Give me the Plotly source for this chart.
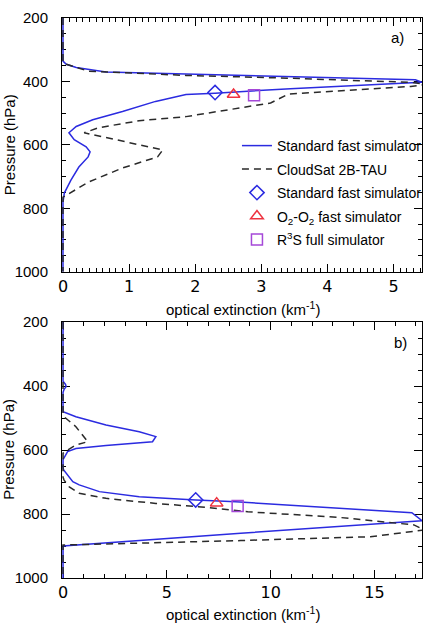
import plotly.graph_objects as go

# ---------------- data (pressure in hPa, optical extinction in km^-1) ----------------
# Panel a
a_blue_p = [200, 336, 346, 356, 370, 376, 386, 395, 403, 423, 437, 441, 463, 495, 521, 542, 562, 584, 606, 622, 638, 670, 711, 752, 781, 1000]
a_blue_x = [0, 0, 0.05, 0.2, 0.65, 1.86, 3.44, 5.33, 5.43, 3.44, 2.3, 1.86, 1.40, 0.9, 0.45, 0.2, 0.09, 0.17, 0.35, 0.41, 0.38, 0.24, 0.12, 0.02, 0, 0]

a_dash_p = [200, 340, 346, 368, 381, 390, 403, 409, 416, 440, 468, 505, 511, 524, 546, 562, 616, 638, 673, 717, 759, 765, 1000]
a_dash_x = [0, 0, 0.05, 0.39, 1.86, 3.44, 5.26, 5.5, 5.26, 3.41, 3.14, 2.08, 1.86, 1.15, 0.54, 0.32, 1.51, 1.43, 0.9, 0.39, 0.05, 0, 0]

a_pts_x = [2.30, 2.58, 2.89]
a_pts_p = [435, 441, 444]

# Panel b
b_blue_p = [200, 385, 395, 402, 410, 420, 480, 496, 522, 543, 558, 574, 586, 595, 605, 621, 630, 655, 662, 699, 709, 730, 746, 756, 762, 796, 821, 860, 900, 1000]
b_blue_x = [0, 0, 0.12, 0.15, 0.05, 0, 0, 0.62, 2.07, 3.67, 4.47, 4.31, 2.07, 0.62, 0.22, 0.06, 0, 0, 0.03, 0.47, 0.78, 1.75, 3.67, 6.39, 8.32, 16.8, 17.29, 8.56, 0, 0]

b_dash_p = [200, 488, 496, 527, 574, 584, 600, 610, 685, 694, 715, 735, 751, 767, 779, 793, 811, 834, 850, 871, 883, 897, 1000]
b_dash_x = [0, 0, 0.05, 0.62, 1.19, 0.62, 0.22, 0, 0, 0.05, 0.3, 0.78, 2.07, 4.47, 6.88, 8.9, 13.37, 16.9, 17.4, 14.8, 8.56, 0, 0]

b_pts_x = [6.39, 7.40, 8.41]
b_pts_p = [756, 766, 775]

pt_names = ["Standard fast simulator", "O<sub>2</sub>-O<sub>2</sub> fast simulator", "R<sup>3</sup>S full simulator"]
pt_symbols = ["diamond-open", "triangle-up-open", "square-open"]

BLUE = "#2b2be0"
RED = "#ee3340"
PURPLE = "#a548d8"
pt_colors = [BLUE, RED, PURPLE]
DASHC = "#2a2a2a"

FONT = "Liberation Sans, Arial, sans-serif"
TICKFONT_X = "DejaVu Sans, sans-serif"

fig = go.Figure()

for panel, (xa, ya, bp, bx, dp, dx, px, pp) in enumerate([
    ("x", "y", a_blue_p, a_blue_x, a_dash_p, a_dash_x, a_pts_x, a_pts_p),
    ("x2", "y2", b_blue_p, b_blue_x, b_dash_p, b_dash_x, b_pts_x, b_pts_p),
]):
    show = panel == 0
    fig.add_trace(go.Scatter(x=bx, y=bp, mode="lines", xaxis=xa, yaxis=ya,
                             line=dict(color=BLUE, width=1.5),
                             name="Standard fast simulator", showlegend=show, legendgroup="g1"))
    fig.add_trace(go.Scatter(x=dx, y=dp, mode="lines", xaxis=xa, yaxis=ya,
                             line=dict(color=DASHC, width=1.5, dash="7px,5px"),
                             name="CloudSat 2B-TAU", showlegend=show, legendgroup="g2"))
    for i in range(3):
        fig.add_trace(go.Scatter(x=[px[i]], y=[pp[i]], mode="markers", xaxis=xa, yaxis=ya,
                                 marker=dict(symbol=pt_symbols[i], size=11, color=pt_colors[i],
                                             line=dict(color=pt_colors[i], width=1.5)),
                                 name=pt_names[i], showlegend=show, legendgroup="g%d" % (i + 3)))

common_axis = dict(showline=True, linecolor="black", linewidth=1, mirror="allticks",
                   ticks="inside", ticklen=8, tickcolor="black", tickwidth=1,
                   showgrid=False, zeroline=False, layer="below traces")

fig.update_layout(
    width=427, height=623,
    margin=dict(l=62, r=5, t=18, b=45, autoexpand=False),
    paper_bgcolor="white", plot_bgcolor="white",
    font=dict(family=FONT, size=14, color="black"),
    showlegend=True,
    legend=dict(x=0.486, y=0.800, xanchor="left", yanchor="top", bgcolor="rgba(0,0,0,0)",
                font=dict(family=FONT, size=14), traceorder="grouped", tracegroupgap=2.3,
                itemwidth=30),
    xaxis=dict(domain=[0, 1], anchor="y", range=[-0.015, 5.43], tickvals=[0, 1, 2, 3, 4, 5],
               minor=dict(ticks="inside", dtick=0.1, ticklen=4, tickcolor="black"),
               tickfont=dict(family=TICKFONT_X, size=16), ticklabelstandoff=0, **common_axis),
    yaxis=dict(domain=[0.547, 1], anchor="x", range=[1000, 200], tickvals=[200, 400, 600, 800, 1000],
               minor=dict(ticks="inside", dtick=50, ticklen=4, tickcolor="black"),
               tickfont=dict(size=15), ticklabelstandoff=10, **common_axis),
    xaxis2=dict(domain=[0, 1], anchor="y2", range=[-0.05, 17.29], tickvals=[0, 5, 10, 15],
                minor=dict(ticks="inside", dtick=1, ticklen=4, tickcolor="black"),
                tickfont=dict(family=TICKFONT_X, size=16), ticklabelstandoff=0, **common_axis),
    yaxis2=dict(domain=[0, 0.457], anchor="x2", range=[1000, 200], tickvals=[200, 400, 600, 800, 1000],
                minor=dict(ticks="inside", dtick=50, ticklen=4, tickcolor="black"),
                tickfont=dict(size=15), ticklabelstandoff=10, **common_axis),
)

annots = [
    dict(text="a)", x=0.933, y=0.966),
    dict(text="b)", x=0.939, y=0.421),
    dict(text="optical extinction (km<sup>-1</sup>)", x=0.503, y=0.482),
    dict(text="optical extinction (km<sup>-1</sup>)", x=0.503, y=-0.063),
    dict(text="Pressure (hPa)", x=-0.147, y=0.773, textangle=-90),
    dict(text="Pressure (hPa)", x=-0.147, y=0.229, textangle=-90),
]
for a in annots:
    fig.add_annotation(xref="paper", yref="paper", showarrow=False,
                       xanchor="center", yanchor="middle",
                       font=dict(family=FONT, size=15, color="black"), **a)

fig.write_html("out.html")
